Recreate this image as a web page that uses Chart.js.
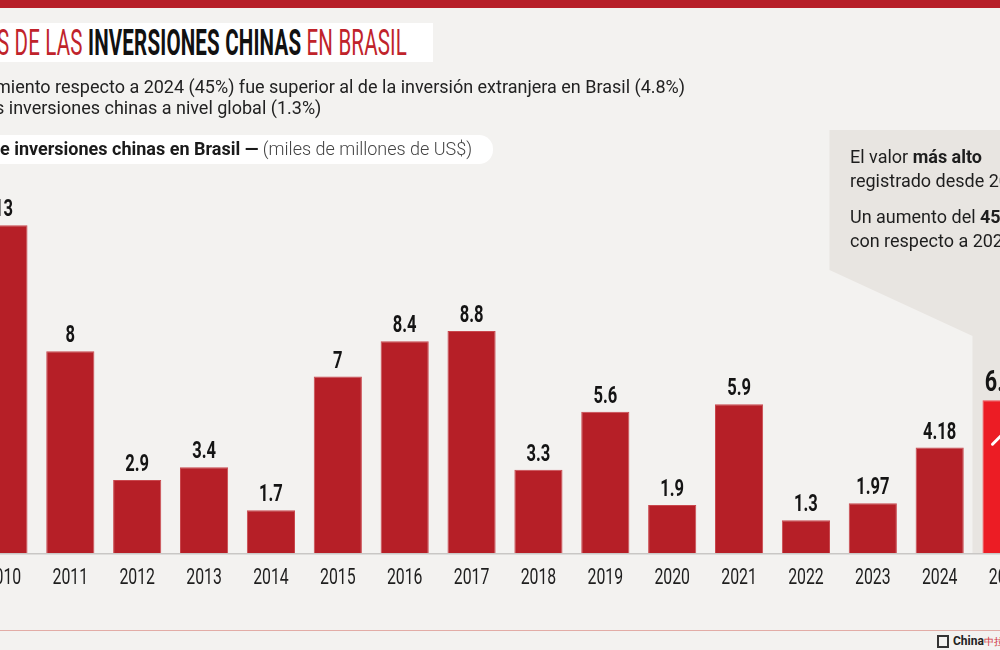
<!DOCTYPE html>
<html>
<head>
<meta charset="utf-8">
<script src="https://cdn.jsdelivr.net/npm/chart.js@4.4.1/dist/chart.umd.min.js"></script>
<style>
  html, body { margin: 0; padding: 0; }
  body { width: 1000px; height: 650px; overflow: hidden; position: relative; background: #f3f2f0; font-family: Roboto, sans-serif; color: #1e1e1e; }
  .topbar { position: absolute; left: 0; top: 0; width: 1000px; height: 8px; background: #b71f28; }
  .title { position: absolute; left: 0; top: 23px; width: 433px; height: 39px; background: #fff; z-index: 2; overflow: hidden; }
  .title span.inner { position: absolute; left: -3px; top: -2px; white-space: nowrap; font-size: 37px; transform: scaleX(0.555); transform-origin: left top; letter-spacing: 0.3px; }
  .red { color: #c0232b; font-weight: 400; }
  .blk { color: #111; font-weight: 700; }
  .sub { position: absolute; left: -5px; top: 76px; font-size: 18px; line-height: 21px; color: #222; white-space: nowrap; z-index: 2; }
  .pill { position: absolute; left: -20px; top: 135px; width: 513px; height: 29px; background: #fff; border-radius: 14px; z-index: 2; }
  .pill span { position: absolute; left: 20px; top: 3px; font-size: 18px; white-space: nowrap; color: #1a1a1a; }
  .pill b { font-weight: 700; }
  .pill i { font-style: normal; color: #444; font-weight: 300; }
  .note { position: absolute; left: 850px; top: 145px; font-size: 18px; line-height: 24px; color: #1e1e1e; white-space: nowrap; z-index: 2; }
  .note p { margin: 0 0 12px 0; }
  .foot { position: absolute; left: 0; top: 630px; width: 1000px; height: 1px; background: #e2aca6; }
  .logo { position: absolute; left: 937px; top: 634px; height: 14px; white-space: nowrap; font-size: 12px; font-weight: 700; color: #222; }
  .logo .ic { display: inline-block; width: 12px; height: 13px; border: 2px solid #333; vertical-align: -3px; margin-right: 4px; box-sizing: border-box; }
  .logo em { font-style: normal; color: #d0343b; font-size: 10px; font-weight: 400; }
  #wrap { position: absolute; left: -30px; top: 0; width: 1070px; height: 650px; z-index: 1; }
</style>
</head>
<body>
<div class="topbar"></div>
<div class="title"><span class="inner"><span class="red">S DE LAS </span><span class="blk">INVERSIONES CHINAS </span><span class="red">EN BRASIL</span></span></div>
<div class="sub">miento respecto a 2024 (45%) fue superior al de la inversión extranjera en Brasil (4.8%)<br>s inversiones chinas a nivel global (1.3%)</div>
<div class="pill"><span><b>e inversiones chinas en Brasil —</b> <i>(miles de millones de US$)</i></span></div>
<div class="note">
  <p>El valor <b>más alto</b><br>registrado desde 2017</p>
  <p>Un aumento del <b>45%</b><br>con respecto a 2024</p>
</div>
<div id="wrap"><canvas id="c"></canvas></div>
<div class="foot"></div>
<div class="logo"><span class="ic"></span>China<em>中拉新闻</em></div>
<script>
const years = ['2010', '2011', '2012', '2013', '2014', '2015', '2016', '2017', '2018', '2019', '2020', '2021', '2022', '2023', '2024', '2025'];
const investment = [13, 8, 2.9, 3.4, 1.7, 7, 8.4, 8.8, 3.3, 5.6, 1.9, 5.9, 1.3, 1.97, 4.18, 6.06];
const valueLabels = ['13', '8', '2.9', '3.4', '1.7', '7', '8.4', '8.8', '3.3', '5.6', '1.9', '5.9', '1.3', '1.97', '4.18', '6.06'];

const barColors = years.map((y, i) => i === years.length - 1 ? '#ec1c24' : '#b61f27');

function squeezed(ctx, text, x, y, font, sx) {
  ctx.save()
  ctx.translate(x, y)
  ctx.scale(sx, 1)
  ctx.font = font
  ctx.fillText(text, 0, 0)
  ctx.restore()
}

const decorations = {
  id: 'decorations',
  beforeDatasetsDraw(chart) {
    const ctx = chart.ctx
    const meta = chart.getDatasetMeta(0)
    const last = meta.data[meta.data.length - 1]
    const base = chart.scales.y.getPixelForValue(0)
    const stripLeft = last.x - last.width / 2 - 10
    // callout background behind the 2025 bar
    ctx.save()
    ctx.fillStyle = '#e8e5e1'
    ctx.beginPath()
    ctx.moveTo(stripLeft - 143, 130)
    ctx.lineTo(chart.width, 130)
    ctx.lineTo(chart.width, base)
    ctx.lineTo(stripLeft, base)
    ctx.lineTo(stripLeft, 336)
    ctx.lineTo(stripLeft - 143, 270)
    ctx.closePath()
    ctx.fill()
    // baseline
    ctx.fillStyle = '#c9c7c5'
    ctx.fillRect(0, base, chart.width, 1.5)
    ctx.restore()
  },
  afterDatasetsDraw(chart) {
    const ctx = chart.ctx
    const meta = chart.getDatasetMeta(0)
    const base = chart.scales.y.getPixelForValue(0)
    ctx.save()
    ctx.textAlign = 'center'
    ctx.textBaseline = 'alphabetic'
    meta.data.forEach((bar, i) => {
      const isLast = i === meta.data.length - 1
      ctx.fillStyle = '#141414'
      squeezed(ctx, valueLabels[i], bar.x, bar.y - 9, isLast ? 'bold 30px Roboto' : 'bold 23px Roboto', 0.72)
      ctx.fillStyle = '#1e1e1e'
      squeezed(ctx, years[i], bar.x, base + 31, '22px Roboto', 0.72)
    })
    // trend arrow inside the 2025 bar
    const last = meta.data[meta.data.length - 1]
    const l = last.x - last.width / 2
    ctx.strokeStyle = '#ffffff'
    ctx.lineWidth = 3
    ctx.lineCap = 'round'
    ctx.lineJoin = 'round'
    ctx.beginPath()
    ctx.moveTo(l + 10, last.y + 44)
    ctx.lineTo(l + 20, last.y + 34)
    ctx.lineTo(l + 28, last.y + 41)
    ctx.lineTo(l + 40, last.y + 28)
    ctx.stroke()
    ctx.restore()
  }
}

new Chart(document.getElementById('c'), {
  type: 'bar',
  data: {
    labels: years,
    datasets: [
      {
        data: investment,
        backgroundColor: barColors,
        borderColor: years.map((y, i) => i === years.length - 1 ? '#f04a50' : '#c9474d'),
        borderWidth: 1,
        barPercentage: 0.72,
        categoryPercentage: 1,
      },
    ],
  },
  options: {
    responsive: true,
    maintainAspectRatio: false,
    animation: false,
    events: [],
    layout: {
      padding: { top: 200, bottom: 97, left: 0, right: 0 },
    },
    plugins: {
      legend: { display: false },
      tooltip: { enabled: false },
    },
    scales: {
      x: { display: false },
      y: { display: false, min: 0, max: 14 },
    },
  },
  plugins: [decorations],
})
</script>
</body>
</html>
